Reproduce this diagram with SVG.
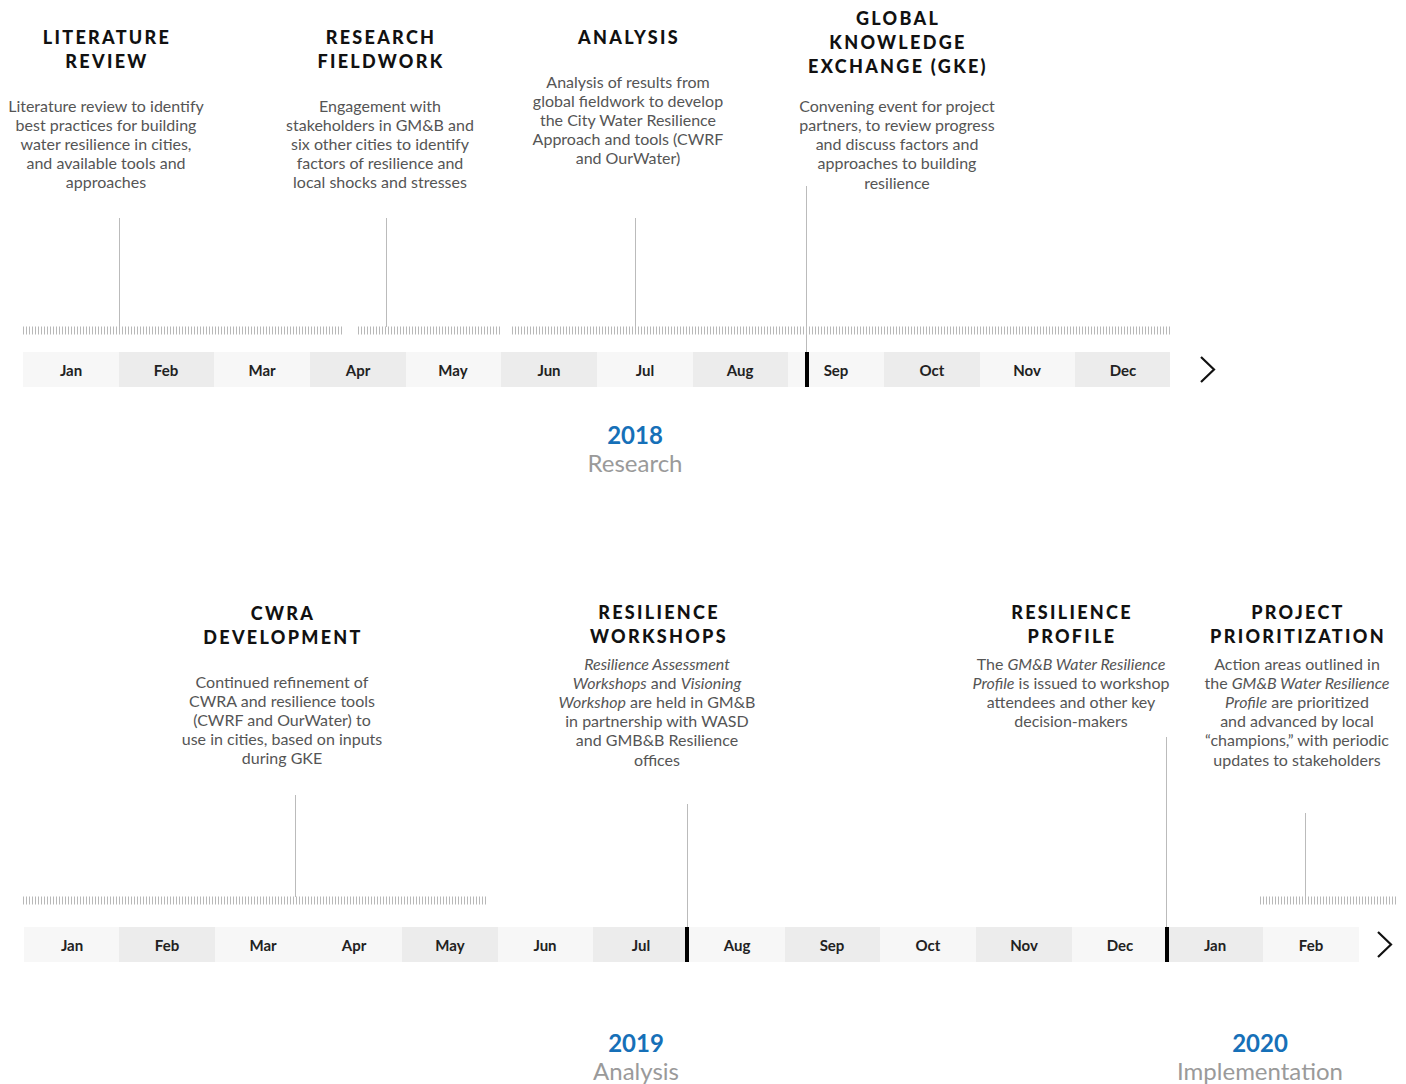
<svg xmlns="http://www.w3.org/2000/svg" width="1406" height="1084" viewBox="0 0 1406 1084">
<style>
.t{font-family:Lato,"Open Sans","Liberation Sans",sans-serif;font-weight:900;font-size:18px;letter-spacing:2.3px;fill:#111;text-anchor:middle}
.b{font-family:Lato,"Open Sans","Liberation Sans",sans-serif;font-size:16px;fill:#555;text-anchor:middle}
.i{font-style:italic}
.m{font-family:Lato,"Open Sans","Liberation Sans",sans-serif;font-weight:700;font-size:15px;fill:#222;text-anchor:middle}
.y{font-family:Lato,"Open Sans","Liberation Sans",sans-serif;font-weight:700;font-size:24px;fill:#1670b8;text-anchor:middle}
.s{font-family:Lato,"Open Sans","Liberation Sans",sans-serif;font-size:24px;fill:#9a9a9a;text-anchor:middle}
.l{fill:#f7f7f7}.d{fill:#ececec}
.tick{stroke:#b8b8b8;stroke-width:8;stroke-dasharray:1 2;fill:none}
.v{stroke:#bbb;stroke-width:1;fill:none}
.arr{stroke:#111;stroke-width:2.2;fill:none}
</style>
<rect width="1406" height="1084" fill="#fff"/>

<g id="connectors">
<line class="tick" x1="23" y1="330.5" x2="342" y2="330.5"/>
<line class="tick" x1="358" y1="330.5" x2="502" y2="330.5"/>
<line class="tick" x1="512" y1="330.5" x2="1170" y2="330.5"/>
<line class="tick" x1="23" y1="900.5" x2="488" y2="900.5"/>
<line class="tick" x1="1260" y1="900.5" x2="1398" y2="900.5"/>
<line class="v" x1="119.5" y1="218" x2="119.5" y2="327"/>
<line class="v" x1="386.5" y1="218" x2="386.5" y2="327"/>
<line class="v" x1="635.5" y1="218" x2="635.5" y2="327"/>
<line class="v" x1="806.5" y1="186" x2="806.5" y2="352"/>
<line class="v" x1="295.5" y1="795" x2="295.5" y2="897"/>
<line class="v" x1="687.5" y1="804" x2="687.5" y2="927"/>
<line class="v" x1="1166.5" y1="737" x2="1166.5" y2="927"/>
<line class="v" x1="1305.5" y1="813" x2="1305.5" y2="897"/>
</g>

<g id="timeline-2018">
<rect class="l" x="23" y="352" width="96" height="35"/>
<rect class="d" x="119" y="352" width="95" height="35"/>
<rect class="l" x="214" y="352" width="96" height="35"/>
<rect class="d" x="310" y="352" width="96" height="35"/>
<rect class="l" x="406" y="352" width="95" height="35"/>
<rect class="d" x="501" y="352" width="96" height="35"/>
<rect class="l" x="597" y="352" width="96" height="35"/>
<rect class="d" x="693" y="352" width="95" height="35"/>
<rect class="l" x="788" y="352" width="96" height="35"/>
<rect class="d" x="884" y="352" width="96" height="35"/>
<rect class="l" x="980" y="352" width="95" height="35"/>
<rect class="d" x="1075" y="352" width="95" height="35"/>
<rect x="805" y="352" width="4" height="35" fill="#000"/>
<text class="m" x="71" y="376">Jan</text>
<text class="m" x="166" y="376">Feb</text>
<text class="m" x="262" y="376">Mar</text>
<text class="m" x="358" y="376">Apr</text>
<text class="m" x="453" y="376">May</text>
<text class="m" x="549" y="376">Jun</text>
<text class="m" x="645" y="376">Jul</text>
<text class="m" x="740" y="376">Aug</text>
<text class="m" x="836" y="376">Sep</text>
<text class="m" x="932" y="376">Oct</text>
<text class="m" x="1027" y="376">Nov</text>
<text class="m" x="1123" y="376">Dec</text>
<polyline class="arr" points="1201,357 1214,369.5 1201,382"/>
<text class="y" x="635" y="444">2018</text>
<text class="s" x="635" y="472">Research</text>
</g>

<g id="timeline-2019">
<rect class="l" x="24" y="927" width="95" height="35"/>
<rect class="d" x="119" y="927" width="96" height="35"/>
<rect class="l" x="215" y="927" width="187" height="35"/>
<rect class="d" x="402" y="927" width="96" height="35"/>
<rect class="l" x="498" y="927" width="95" height="35"/>
<rect class="d" x="593" y="927" width="95" height="35"/>
<rect class="l" x="688" y="927" width="97" height="35"/>
<rect class="d" x="785" y="927" width="95" height="35"/>
<rect class="l" x="880" y="927" width="96" height="35"/>
<rect class="d" x="976" y="927" width="96" height="35"/>
<rect class="l" x="1072" y="927" width="95" height="35"/>
<rect class="d" x="1167" y="927" width="96" height="35"/>
<rect class="l" x="1263" y="927" width="96" height="35"/>
<rect x="685" y="927" width="4" height="35" fill="#000"/>
<rect x="1165" y="927" width="4" height="35" fill="#000"/>
<text class="m" x="72" y="951">Jan</text>
<text class="m" x="167" y="951">Feb</text>
<text class="m" x="263" y="951">Mar</text>
<text class="m" x="354" y="951">Apr</text>
<text class="m" x="450" y="951">May</text>
<text class="m" x="545" y="951">Jun</text>
<text class="m" x="641" y="951">Jul</text>
<text class="m" x="737" y="951">Aug</text>
<text class="m" x="832" y="951">Sep</text>
<text class="m" x="928" y="951">Oct</text>
<text class="m" x="1024" y="951">Nov</text>
<text class="m" x="1120" y="951">Dec</text>
<text class="m" x="1215" y="951">Jan</text>
<text class="m" x="1311" y="951">Feb</text>
<polyline class="arr" points="1378,932 1391,944.5 1378,957"/>
<text class="y" x="636" y="1052">2019</text>
<text class="s" x="636" y="1080">Analysis</text>
<text class="y" x="1260" y="1052">2020</text>
<text class="s" x="1260" y="1080">Implementation</text>
</g>

<g id="literature-review">
<text class="t" x="107" y="44">LITERATURE</text>
<text class="t" x="107" y="68">REVIEW</text>
<text class="b" x="106" y="112">Literature review to identify</text>
<text class="b" x="106" y="131">best practices for building</text>
<text class="b" x="106" y="150">water resilience in cities,</text>
<text class="b" x="106" y="169">and available tools and</text>
<text class="b" x="106" y="188">approaches</text>
</g>

<g id="research-fieldwork">
<text class="t" x="381" y="44">RESEARCH</text>
<text class="t" x="381" y="68">FIELDWORK</text>
<text class="b" x="380" y="112">Engagement with</text>
<text class="b" x="380" y="131">stakeholders in GM&amp;B and</text>
<text class="b" x="380" y="150">six other cities to identify</text>
<text class="b" x="380" y="169">factors of resilience and</text>
<text class="b" x="380" y="188">local shocks and stresses</text>
</g>

<g id="analysis">
<text class="t" x="629" y="44">ANALYSIS</text>
<text class="b" x="628" y="88">Analysis of results from</text>
<text class="b" x="628" y="107">global fieldwork to develop</text>
<text class="b" x="628" y="126">the City Water Resilience</text>
<text class="b" x="628" y="145">Approach and tools (CWRF</text>
<text class="b" x="628" y="164">and OurWater)</text>
</g>

<g id="gke">
<text class="t" x="898" y="25">GLOBAL</text>
<text class="t" x="898" y="49">KNOWLEDGE</text>
<text class="t" x="898" y="73">EXCHANGE (GKE)</text>
<text class="b" x="897" y="112">Convening event for project</text>
<text class="b" x="897" y="131">partners, to review progress</text>
<text class="b" x="897" y="150">and discuss factors and</text>
<text class="b" x="897" y="169">approaches to building</text>
<text class="b" x="897" y="189">resilience</text>
</g>

<g id="cwra-development">
<text class="t" x="283" y="620">CWRA</text>
<text class="t" x="283" y="644">DEVELOPMENT</text>
<text class="b" x="282" y="688">Continued refinement of</text>
<text class="b" x="282" y="707">CWRA and resilience tools</text>
<text class="b" x="282" y="726">(CWRF and OurWater) to</text>
<text class="b" x="282" y="745">use in cities, based on inputs</text>
<text class="b" x="282" y="764">during GKE</text>
</g>

<g id="resilience-workshops">
<text class="t" x="659" y="619">RESILIENCE</text>
<text class="t" x="659" y="643">WORKSHOPS</text>
<text class="b" x="657" y="670"><tspan class="i">Resilience Assessment</tspan></text>
<text class="b" x="657" y="689"><tspan class="i">Workshops</tspan> and <tspan class="i">Visioning</tspan></text>
<text class="b" x="657" y="708"><tspan class="i">Workshop</tspan> are held in GM&amp;B</text>
<text class="b" x="657" y="727">in partnership with WASD</text>
<text class="b" x="657" y="746">and GMB&amp;B Resilience</text>
<text class="b" x="657" y="766">offices</text>
</g>

<g id="resilience-profile">
<text class="t" x="1072" y="619">RESILIENCE</text>
<text class="t" x="1072" y="643">PROFILE</text>
<text class="b" x="1071" y="670">The <tspan class="i">GM&amp;B Water Resilience</tspan></text>
<text class="b" x="1071" y="689"><tspan class="i">Profile</tspan> is issued to workshop</text>
<text class="b" x="1071" y="708">attendees and other key</text>
<text class="b" x="1071" y="727">decision-makers</text>
</g>

<g id="project-prioritization">
<text class="t" x="1298" y="619">PROJECT</text>
<text class="t" x="1298" y="643">PRIORITIZATION</text>
<text class="b" x="1297" y="670">Action areas outlined in</text>
<text class="b" x="1297" y="689">the <tspan class="i">GM&amp;B Water Resilience</tspan></text>
<text class="b" x="1297" y="708"><tspan class="i">Profile</tspan> are prioritized</text>
<text class="b" x="1297" y="727">and advanced by local</text>
<text class="b" x="1297" y="746">“champions,” with periodic</text>
<text class="b" x="1297" y="766">updates to stakeholders</text>
</g>
</svg>
